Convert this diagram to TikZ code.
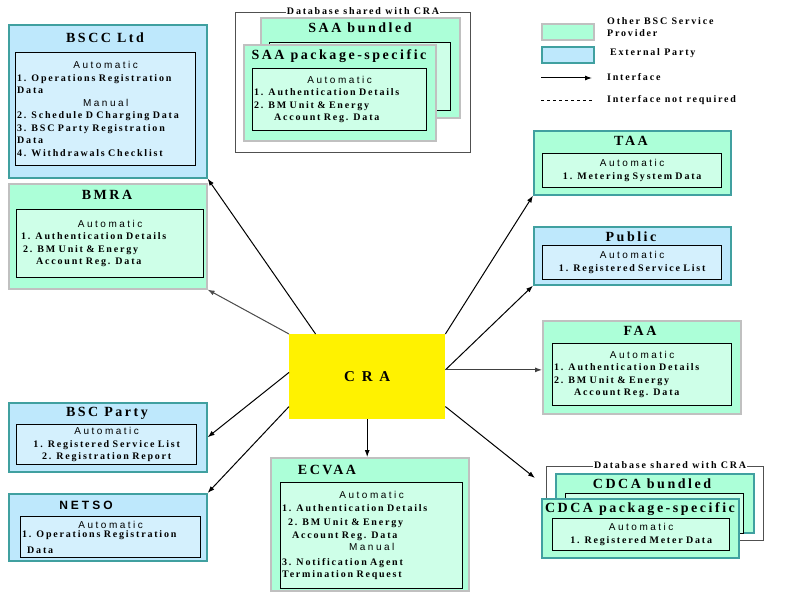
\documentclass[tikz,border=0pt]{standalone}
\usepackage{fontspec}
\setmainfont{Liberation Serif}[LetterSpace=18]
\setsansfont{Liberation Sans}[LetterSpace=25]
\usetikzlibrary{arrows.meta,calc}

\definecolor{provfill}{RGB}{172,255,216}
\definecolor{provlist}{RGB}{206,255,232}
\definecolor{provedge}{RGB}{192,192,192}
\definecolor{extfill}{RGB}{190,232,252}
\definecolor{extlist}{RGB}{212,240,253}
\definecolor{extedge}{RGB}{64,160,160}
\definecolor{dbedge}{RGB}{80,80,80}

\newcommand{\modeline}[1]{\makebox[\hsize]{\sffamily\mdseries\fontsize{10}{12.5}\selectfont #1}}
\newcommand{\modeword}[1]{{\sffamily\mdseries\fontsize{10}{12.5}\selectfont #1}}

\tikzset{
  provider/.style={draw=provedge, fill=provfill, line width=1.6pt, anchor=north west, inner sep=0pt},
  extparty/.style={provider, draw=extedge, fill=extfill},
  datalist/.style={draw=black, fill=provlist, line width=1.4pt, anchor=north west, inner sep=1.5pt, align=left},
  boxtitle/.style={font=\bfseries\fontsize{14}{16}\selectfont, inner sep=0pt},
  link/.style={->, line width=1pt},
  dbframe/.style={draw=dbedge, line width=1.2pt, anchor=north west, inner sep=0pt},
  dblabel/.style={fill=white, inner sep=1pt, font=\bfseries\fontsize{10}{12}\selectfont},
  keytext/.style={anchor=west, inner sep=0pt, align=left, font=\bfseries\fontsize{10}{12}\selectfont}
}

\begin{document}
\begin{tikzpicture}[x=1pt, y=-1pt, >={Latex[length=7pt,width=5pt]}, font=\bfseries\fontsize{10}{12.5}\selectfont]
  \useasboundingbox (0,0) rectangle (803,615);

  % key
  \node[provider, minimum width=52pt, minimum height=16pt] (key-prov) at (541,23) {};
  \node[extparty, minimum width=52pt, minimum height=16pt] (key-ext) at (541,46) {};
  \node[keytext] (key-prov-t) at (607,27) {Other BSC Service\\Provider};
  \node[keytext] (key-ext-t) at (610,53) {External Party};
  \coordinate (key-if-a) at (541,78);
  \coordinate (key-if-b) at (592,78);
  \coordinate (key-nr-a) at (541,100);
  \coordinate (key-nr-b) at (592,100);
  \draw[link] (key-if-a) -- (key-if-b);
  \draw[dashed, line width=0.8pt] (key-nr-a) -- (key-nr-b);
  \node[keytext] (key-if-t) at (607,77) {Interface};
  \node[keytext] (key-nr-t) at (607,100) {Interface not required};

  % centre
  \node[fill=yellow, minimum width=156pt, minimum height=85pt, anchor=north west,
        font=\bfseries\fontsize{15}{16}\selectfont\addfontfeature{LetterSpace=45}] (cra) at (289,334) {CRA};
  \coordinate (cra-r) at ($(cra.north east)!0.42!(cra.south east)$);

  % left column
  \node[extparty, minimum width=198pt, minimum height=153pt] (bscc) at (8,24) {};
  \node[boxtitle] (bscc-t) at (105,38) {BSCC Ltd};
  \node[datalist, fill=extlist, text width=177pt, minimum height=113pt] (bscc-d) at (15,52)
    {\modeline{Automatic}\\ 1. Operations Registration\\ Data\\ \modeline{Manual}\\
     2. Schedule D Charging Data\\ 3. BSC Party Registration\\ Data\\ 4. Withdrawals Checklist};

  \node[provider, minimum width=198pt, minimum height=105pt] (bmra) at (8,183) {};
  \node[boxtitle] (bmra-t) at (107,195) {BMRA};
  \node[datalist, text width=184pt, minimum height=68pt] (bmra-d) at (16,209)
    {\modeline{Automatic}\\ \hspace*{0.3em}1. Authentication Details\\
     \hspace*{0.5em}2. BM Unit \& Energy\\ \hspace*{1.8em}Account Reg. Data};

  \node[extparty, minimum width=198pt, minimum height=69pt] (bscparty) at (8,402) {};
  \node[boxtitle] (bscparty-t) at (107,413) {BSC Party};
  \node[datalist, fill=extlist, align=center, text width=177pt, minimum height=40pt] (bscparty-d) at (16,424)
    {\modeword{Automatic}\\ 1. Registered Service List\\ 2. Registration Report};

  \node[extparty, minimum width=198pt, minimum height=67pt] (netso) at (8,493) {};
  \node[boxtitle, font=\sffamily\bfseries\fontsize{12}{14}\selectfont] (netso-t) at (86,505) {NETSO};
  \node[datalist, fill=extlist, text width=177pt, minimum height=41pt] (netso-d) at (20,516)
    {\modeline{Automatic}\\[-3pt] 1. Operations Registration\\[3pt] \hspace*{0.5em}Data};

  % SAA
  \node[dbframe, minimum width=235pt, minimum height=140pt] (saa-db) at (235,12) {};
  \node[dblabel] (saa-db-t) at ($(saa-db.north)+(10,-1)$) {Database shared with CRA};
  \node[provider, minimum width=199pt, minimum height=100pt] (saab) at (260,17) {};
  \node[boxtitle] (saab-t) at (360,28) {SAA bundled};
  \node[datalist, text width=178pt, minimum height=68pt] (saab-d) at (269,42) {};
  \node[provider, minimum width=192pt, minimum height=96pt] (saap) at (243,44) {};
  \node[boxtitle] (saap-t) at (339,56) {SAA package-specific};
  \node[datalist, text width=171pt, minimum height=62pt] (saap-d) at (252,68)
    {\modeline{Automatic}\\ 1. Authentication Details\\ 2. BM Unit \& Energy\\ \hspace*{2em}Account Reg. Data};

  % right column
  \node[provider, draw=extedge, minimum width=197pt, minimum height=64pt] (taa) at (533,130) {};
  \node[boxtitle] (taa-t) at (631,141) {TAA};
  \node[datalist, align=center, text width=176pt, minimum height=34pt] (taa-d) at (542,153)
    {\modeword{Automatic}\\ 1. Metering System Data};

  \node[extparty, minimum width=197pt, minimum height=58pt] (public) at (533,226) {};
  \node[boxtitle] (public-t) at (631,237) {Public};
  \node[datalist, fill=extlist, align=center, text width=176pt, minimum height=34pt] (public-d) at (542,245)
    {\modeword{Automatic}\\ 1. Registered Service List};

  \node[provider, minimum width=198pt, minimum height=93pt] (faa) at (542,320) {};
  \node[boxtitle] (faa-t) at (640,331) {FAA};
  \node[datalist, text width=176pt, minimum height=62pt] (faa-d) at (552,343)
    {\modeline{Automatic}\\ 1. Authentication Details\\ 2. BM Unit \& Energy\\ \hspace*{2em}Account Reg. Data};

  % CDCA
  \node[dbframe, minimum width=217pt, minimum height=74pt] (cdca-db) at (546,466) {};
  \node[dblabel] (cdca-db-t) at ($(cdca-db.north)+(15,-1)$) {Database shared with CRA};
  \node[provider, draw=extedge, minimum width=198pt, minimum height=59pt] (cdcab) at (555,473) {};
  \node[boxtitle] (cdcab-t) at (652,484) {CDCA bundled};
  \node[datalist, text width=175pt, minimum height=40pt] (cdcab-d) at (565,493) {};
  \node[provider, draw=extedge, minimum width=197pt, minimum height=59pt] (cdcap) at (541,498) {};
  \node[boxtitle] (cdcap-t) at (640,509) {CDCA package-specific};
  \node[datalist, align=center, text width=174pt, minimum height=32pt] (cdcap-d) at (552,518)
    {\modeword{Automatic}\\ 1. Registered Meter Data};

  % bottom
  \node[provider, minimum width=198pt, minimum height=133pt] (ecvaa) at (270,457) {};
  \node[boxtitle] (ecvaa-t) at (327,470) {ECVAA};
  \node[datalist, text width=179pt, minimum height=106pt] (ecvaa-d) at (280,482)
    {\modeline{Automatic}\\ 1. Authentication Details\\[2pt] \hspace*{0.6em}2. BM Unit \& Energy\\
     \hspace*{1em}Account Reg. Data\\ \modeline{Manual}\\[2pt] 3. Notification Agent\\ Termination Request};

  % interfaces
  \coordinate (cdca-in) at (535,478);
  \draw[link] ($(cra.north west)!0.17!(cra.north east)$) -- (bscc.south east);
  \draw[link, draw=black!70] (cra.north west) -- (bmra.south east);
  \draw[link] (cra.north east) -- (taa.south west);
  \draw[link] (cra-r) -- (public.south west);
  \draw[link, draw=black!75] (cra-r) -- (cra-r -| faa.west);
  \draw[link] (cra.south) -- (cra.south |- ecvaa.north);
  \draw[link] ($(cra.north west)!0.45!(cra.south west)$) -- (bscparty.east);
  \draw[link] ($(cra.north west)!0.85!(cra.south west)$) -- (netso.north east);
  \draw[link] ($(cra.north east)!0.85!(cra.south east)$) -- (cdca-in);
\end{tikzpicture}
\end{document}
